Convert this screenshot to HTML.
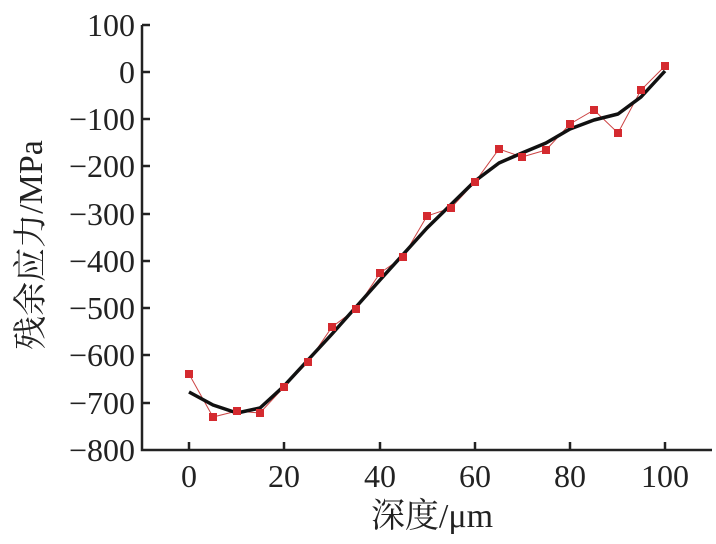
<!DOCTYPE html>
<html><head><meta charset="utf-8"><style>body{margin:0;background:#fff}</style></head><body>
<svg width="716" height="539" xmlns="http://www.w3.org/2000/svg" font-family="'Liberation Serif','Noto Serif CJK SC',serif">
<g stroke="#222" stroke-width="2.5" fill="none">
<path d="M142,25V450H712"/>
<path d="M142,25h8M142,72h8M142,119h8M142,166h8M142,214h8M142,261h8M142,308h8M142,355h8M142,403h8"/>
<path d="M189,450v-8M284,450v-8M380,450v-8M475,450v-8M570,450v-8M665,450v-8"/>
</g>
<g font-size="32" fill="#222" text-anchor="end">
<text x="135" y="36">100</text><text x="135" y="83">0</text><text x="135" y="130">−100</text><text x="135" y="177">−200</text><text x="135" y="225">−300</text><text x="135" y="272">−400</text><text x="135" y="319">−500</text><text x="135" y="366">−600</text><text x="135" y="414">−700</text><text x="135" y="461">−800</text>
</g>
<g font-size="32" fill="#222" text-anchor="middle">
<text x="189" y="487">0</text><text x="284" y="487">20</text><text x="380" y="487">40</text><text x="475" y="487">60</text><text x="570" y="487">80</text><text x="665" y="487">100</text>
<text x="432" y="527" font-size="34">深度/μm</text>
<text transform="translate(42,245) rotate(-90)" font-size="34">残余应力/MPa</text>
</g>
<polyline fill="none" stroke="#c44" stroke-width="1" points="189,374 213,417 237,411 260,413 284,387 308,362 332,327 356,309 380,273 403,257 427,216 451,208 475,182 499,149 522,157 546,150 570,124 594,110 618,133 641,90 665,66"/>
<polyline fill="none" stroke="#111" stroke-width="3.5" stroke-linejoin="round" points="189,392 213,405 237,413 260,408 284,386 332,334 380,280 427,228 475,181 499,163 522,153 546,143 570,129 594,120 618,114 641,97 665,71"/>
<g fill="#d42a2f">
<rect x="185" y="370" width="8" height="8"/><rect x="209" y="413" width="8" height="8"/><rect x="233" y="407" width="8" height="8"/><rect x="256" y="409" width="8" height="8"/><rect x="280" y="383" width="8" height="8"/><rect x="304" y="358" width="8" height="8"/><rect x="328" y="323" width="8" height="8"/><rect x="352" y="305" width="8" height="8"/><rect x="376" y="269" width="8" height="8"/><rect x="399" y="253" width="8" height="8"/><rect x="423" y="212" width="8" height="8"/><rect x="447" y="204" width="8" height="8"/><rect x="471" y="178" width="8" height="8"/><rect x="495" y="145" width="8" height="8"/><rect x="518" y="153" width="8" height="8"/><rect x="542" y="146" width="8" height="8"/><rect x="566" y="120" width="8" height="8"/><rect x="590" y="106" width="8" height="8"/><rect x="614" y="129" width="8" height="8"/><rect x="637" y="86" width="8" height="8"/><rect x="661" y="62" width="8" height="8"/>
</g>
</svg>
</body></html>
